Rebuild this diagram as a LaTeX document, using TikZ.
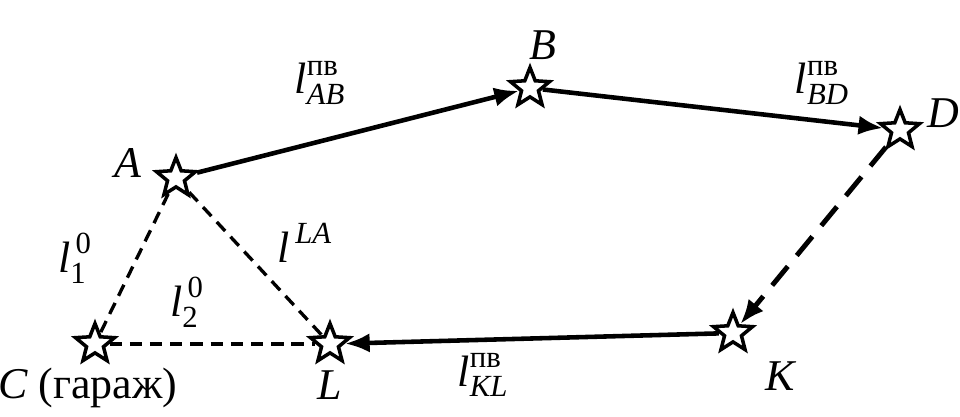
\documentclass[tikz,border=0pt]{standalone}
\usepackage{amsmath}
\usepackage{fontspec}
\setmainfont{Liberation Serif}
\usepackage{tikz}
\usetikzlibrary{shapes.geometric, arrows.meta}

\newcommand{\il}[1]{\text{\itshape #1}}

\begin{document}
\begin{tikzpicture}[x=0.02cm,y=-0.02cm,
    font=\fontsize{25}{29}\selectfont,
    stop/.style={star, star points=5, star point ratio=2.3, draw, line width=2pt,
                 minimum size=0.82cm, inner sep=0pt, fill=white},
    run/.style={line width=2.6pt, -{Latex[length=14pt,width=11pt]}},
    empty/.style={line width=2.8pt, dash pattern=on 14pt off 8pt, -{Latex[length=14pt,width=11pt]}},
    link/.style={line width=1.9pt, dash pattern=on 7pt off 4.5pt}]
       \useasboundingbox (0,0) rectangle (960,416);

       \node[stop] (A) at (176,178) {};
       \node[stop] (B) at (530,88) {};
       \node[stop] (D) at (900,130) {};
       \node[stop] (K) at (733,333) {};
       \node[stop] (L) at (330,344) {};
       \node[stop] (C) at (95,344) {};

       \node (nA) at (128,163) {\itshape A};
       \node (nB) at (543,45) {\itshape B};
       \node (nD) at (943,113) {\itshape D};
       \node (nK) at (780,376) {\itshape K};
       \node (nL) at (330,385) {\itshape L};
       \node (nC) at (88,388) {\itshape C\upshape\ (гараж)};

       \node (lAB) at (320,83) {$\il{l}^{\text{пв}}_{\il{AB}}$};
       \node (lBD) at (822,83) {$\il{l}^{\text{пв}}_{\il{BD}}$};
       \node (lKL) at (483,375) {$\il{l}^{\text{пв}}_{\il{KL}}$};
       \node (l1) at (75,258) {$\il{l}^{\,\text{0}}_{\text{1}}$};
       \node (l2) at (187,302) {$\il{l}^{\,\text{0}}_{\text{2}}$};
       \node (lLA) at (305,243) {$\il{l}^{\,\il{LA}}$};

       \path (A) edge[link] (C)
                 edge[link] (L)
             (C) edge[link] (L);
       \path (A) edge[run] (B)
             (B) edge[run] (D)
             (D) edge[empty] (K)
             (K) edge[run] (L);
    \end{tikzpicture}
\end{document}
